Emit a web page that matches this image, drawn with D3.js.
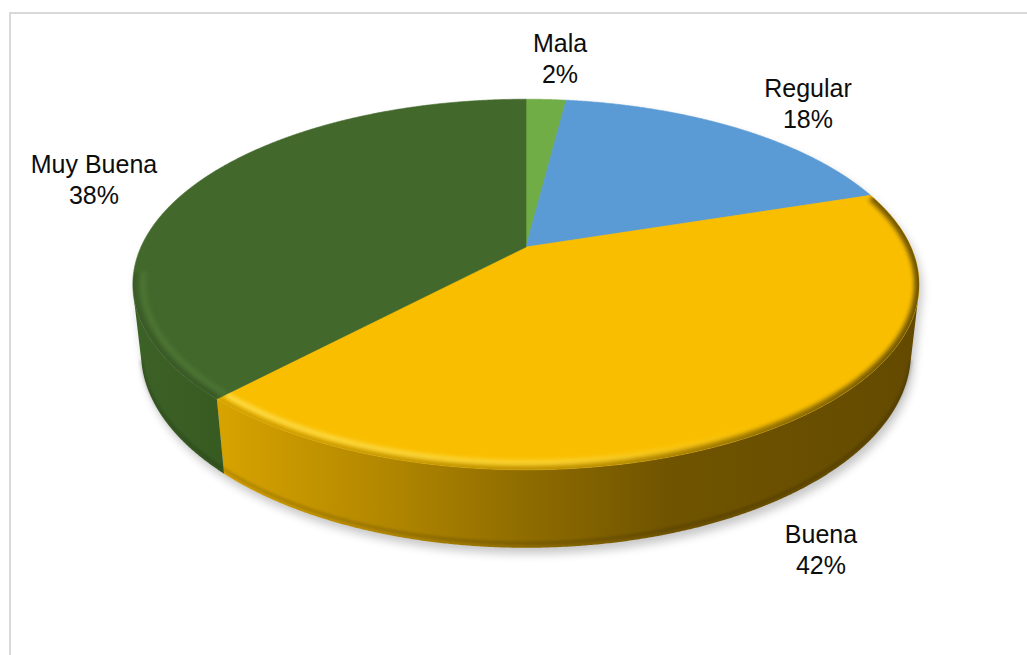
<!DOCTYPE html>
<html>
<head>
<meta charset="utf-8">
<script src="https://cdn.jsdelivr.net/npm/d3@7"></script>
<style>
  html, body { margin: 0; padding: 0; background: #fff; }
  svg { display: block; }
</style>
</head>
<body>
<svg id="chart" width="1027" height="655"></svg>
<script>
// ---- data ----
const categories = ["Mala", "Regular", "Buena", "Muy Buena"];
const values = [2, 18, 42, 38];

// ---- styling ----
const topColors  = ["#70AD47", "#5B9BD5", "#F9BE00", "#43682C"];
const sideStops  = [
  [["0", "#5E9A3A"], ["1", "#4F8730"]],
  [["0", "#4A86BE"], ["1", "#3C6F9E"]],
  [["0", "#E2AC00"], ["0.12", "#D6A200"], ["0.3", "#B68A00"], ["0.5", "#8F6C00"], ["0.68", "#705400"], ["1", "#634A00"]],
  [["0", "#3D6227"], ["0.15", "#35581F"], ["1", "#2E4E1B"]]
];
const rimLight   = ["#8CC860", "#86BCEB", "#FFE45A", "#55823A"];
const rimLightOpacity = [0.9, 0.9, 0.9, 0.55];

// label layout: centre x and first baseline
const labelLayout = {
  "Mala":      [560, 52],
  "Regular":   [808, 97],
  "Buena":     [821, 543],
  "Muy Buena": [94, 173]
};
const lineGap = 31;

// ---- projection of a flat cylinder seen from above in perspective ----
const cam = { cx: 526, cy: 247, kx: 1694, ky: 1716, dist: 4.40, tilt: 27.1 * Math.PI / 180, thick: 0.197 };
const cosT = Math.cos(cam.tilt), sinT = Math.sin(cam.tilt);
function project(theta, r, yUp) {
  const x = r * Math.sin(theta), z = -r * Math.cos(theta);
  const d = cam.dist - (yUp * sinT + z * cosT);
  return [cam.cx + cam.kx * x / d, cam.cy - cam.ky * (yUp * cosT - z * sinT) / d];
}
function arcPoints(a0, a1, r, yUp) {
  const step = Math.PI / 720;
  const n = Math.max(2, Math.ceil(Math.abs(a1 - a0) / step));
  return d3.range(n + 1).map(i => project(a0 + (a1 - a0) * i / n, r, yUp));
}
const line = d3.line();
const closed = pts => line(pts) + "Z";

// side is seen where the outward normal faces the camera
const visA = Math.acos(-1 / (cam.dist * cosT));
const visB = 2 * Math.PI - visA;

// bevel range along the rim (front part lit from upper-left)
const bevA = 72.5 * Math.PI / 180, bevB = 262 * Math.PI / 180;

const svg = d3.select("#chart");
const defs = svg.append("defs");

defs.append("filter").attr("id", "shadowBlur")
  .attr("x", "-20%").attr("y", "-20%").attr("width", "140%").attr("height", "140%")
  .append("feGaussianBlur").attr("stdDeviation", 5);
defs.append("filter").attr("id", "soft2")
  .attr("x", "-10%").attr("y", "-10%").attr("width", "120%").attr("height", "120%")
  .append("feGaussianBlur").attr("stdDeviation", 2.2);
defs.append("filter").attr("id", "soft1")
  .attr("x", "-10%").attr("y", "-10%").attr("width", "120%").attr("height", "120%")
  .append("feGaussianBlur").attr("stdDeviation", 1.4);

const x0 = cam.cx - 395, x1 = cam.cx + 395;
sideStops.forEach((stops, i) => {
  const g = defs.append("linearGradient").attr("id", "side" + i)
    .attr("gradientUnits", "userSpaceOnUse")
    .attr("x1", x0).attr("x2", x1).attr("y1", 0).attr("y2", 0);
  stops.forEach(s => g.append("stop").attr("offset", s[0]).attr("stop-color", s[1]));
});
rimLight.forEach((c, i) => {
  const o = rimLightOpacity[i];
  const g = defs.append("linearGradient").attr("id", "hi" + i)
    .attr("gradientUnits", "userSpaceOnUse")
    .attr("x1", x0).attr("x2", x1).attr("y1", 0).attr("y2", 0);
  g.append("stop").attr("offset", "0").attr("stop-color", c).attr("stop-opacity", o);
  g.append("stop").attr("offset", "0.55").attr("stop-color", c).attr("stop-opacity", o * 0.66);
  g.append("stop").attr("offset", "0.8").attr("stop-color", c).attr("stop-opacity", 0);
});
{
  const g = defs.append("linearGradient").attr("id", "rimShade")
    .attr("gradientUnits", "userSpaceOnUse")
    .attr("x1", x0).attr("x2", x1).attr("y1", 0).attr("y2", 0);
  g.append("stop").attr("offset", "0").attr("stop-color", "#000").attr("stop-opacity", 0.12);
  g.append("stop").attr("offset", "0.6").attr("stop-color", "#000").attr("stop-opacity", 0.25);
  g.append("stop").attr("offset", "1").attr("stop-color", "#000").attr("stop-opacity", 0.55);
}

// chart frame
svg.append("path")
  .attr("d", "M10,656 L10,13 L1028,13")
  .attr("fill", "none").attr("stroke", "#D9D9D9").attr("stroke-width", 2);

// ---- pie layout ----
const pie = d3.pie().sort(null).startAngle(0).endAngle(2 * Math.PI);
const arcs = pie(values);
const total = d3.sum(values);

// drop shadow of the whole solid
const shadow = svg.append("g")
  .attr("transform", "translate(3,6)")
  .attr("filter", "url(#shadowBlur)")
  .attr("opacity", 0.22);
shadow.append("path").attr("d", closed(arcPoints(0, 2 * Math.PI, 1, 0))).attr("fill", "#000");
shadow.append("path")
  .attr("d", closed(arcPoints(visA, visB, 1, 0).concat(arcPoints(visB, visA, 1, -cam.thick))))
  .attr("fill", "#000");

// outer side walls
const sides = svg.append("g");
arcs.forEach((a, i) => {
  const s = Math.max(a.startAngle, visA), e = Math.min(a.endAngle, visB);
  if (e <= s) return;
  const pts = arcPoints(s, e, 1, 0).concat(arcPoints(e, s, 1, -cam.thick));
  sides.append("path").attr("d", closed(pts)).attr("fill", `url(#side${i})`);
  // darker lower edge of the wall
  sides.append("path")
    .attr("d", line(arcPoints(s, e, 1, -cam.thick + 0.012)))
    .attr("fill", "none").attr("stroke", "#000").attr("stroke-opacity", 0.18)
    .attr("stroke-width", 3).attr("filter", "url(#soft1)");
});

// top faces
const tops = svg.append("g");
arcs.forEach((a, i) => {
  const pts = [project(0, 0, 0)].concat(arcPoints(a.startAngle, a.endAngle, 1, 0));
  const d = closed(pts);
  defs.append("clipPath").attr("id", "clipTop" + i).append("path").attr("d", d);
  tops.append("path").attr("d", d).attr("fill", topColors[i])
    .attr("stroke", topColors[i]).attr("stroke-width", 0.6)
    .attr("data-name", categories[i]);
});

// bevel along the front rim of each top face
const bevel = svg.append("g");
arcs.forEach((a, i) => {
  const s = Math.max(a.startAngle, bevA), e = Math.min(a.endAngle, bevB);
  if (e <= s) return;
  const g = bevel.append("g").attr("clip-path", `url(#clipTop${i})`);
  g.append("path")
    .attr("d", line(arcPoints(s, e, 1, 0)))
    .attr("fill", "none").attr("stroke", "url(#rimShade)")
    .attr("stroke-width", 10).attr("filter", "url(#soft2)");
  g.append("path")
    .attr("d", line(arcPoints(s, e, 0.975, 0)))
    .attr("fill", "none").attr("stroke", `url(#hi${i})`)
    .attr("stroke-width", 5).attr("filter", "url(#soft2)");
});

// data labels
const labels = svg.append("g")
  .attr("font-family", "'Liberation Sans', Arial, sans-serif")
  .attr("font-size", 25)
  .attr("fill", "#0D0D0D")
  .attr("text-anchor", "middle");
arcs.forEach((a, i) => {
  const [lx, ly] = labelLayout[categories[i]];
  const t = labels.append("text").attr("x", lx).attr("y", ly);
  t.append("tspan").attr("x", lx).attr("y", ly).text(categories[i]);
  t.append("tspan").attr("x", lx).attr("y", ly + lineGap)
    .text(Math.round(a.value / total * 100) + "%");
});
</script>
</body>
</html>
